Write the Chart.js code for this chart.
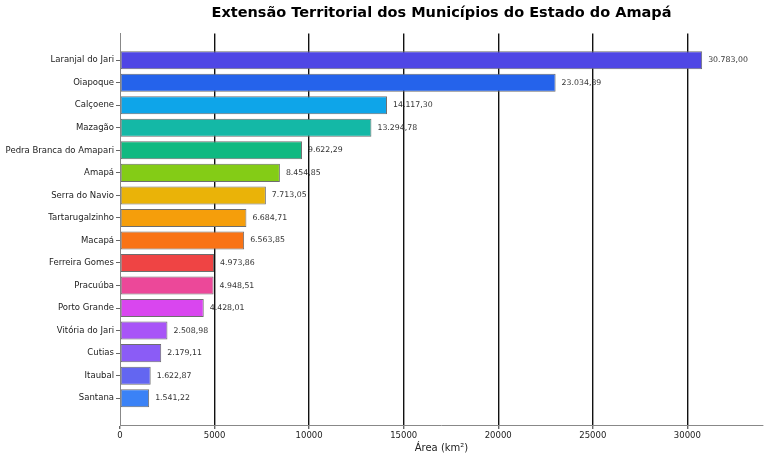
<!DOCTYPE html>
<html>
<head>
<meta charset="utf-8">
<script src="https://cdn.jsdelivr.net/npm/chart.js@4/dist/chart.umd.min.js"></script>
<style>
  html, body { margin: 0; padding: 0; background: #fff; }
  #wrap { width: 768px; height: 457px; }
</style>
</head>
<body>
<div id="wrap"><canvas id="chart"></canvas></div>
<script>
(function() {
    // municipios do Amapa, area em km2
    var municipios = ["Laranjal do Jari", "Oiapoque", "Calçoene", "Mazagão",
        "Pedra Branca do Amapari", "Amapá", "Serra do Navio", "Tartarugalzinho",
        "Macapá", "Ferreira Gomes", "Pracuúba", "Porto Grande",
        "Vitória do Jari", "Cutias", "Itaubal", "Santana"];
    var areas = [30783.00, 23034.39, 14117.30, 13294.78, 9622.29, 8454.85, 7713.05, 6684.71,
        6563.85, 4973.86, 4948.51, 4428.01, 2508.98, 2179.11, 1622.87, 1541.22];
    var cores = ["#4f46e5", "#2563eb", "#0ea5e9", "#14b8a6", "#10b981", "#84cc16", "#eab308", "#f59e0b",
        "#f97316", "#ef4444", "#ec4899", "#d946ef", "#a855f7", "#8b5cf6", "#6366f1", "#3b82f6"];
    var xTicks = [0, 5000, 10000, 15000, 20000, 25000, 30000];

    var fonte = "'DejaVu Sans', sans-serif";

    function formatBR(v) {
        var parts = v.toFixed(2).split(".");
        var inteiro = parts[0].replace(/\B(?=(\d{3})+(?!\d))/g, ".");
        return inteiro + "," + parts[1];
    }

    var valueLabels = {
        id: 'valueLabels',
        afterDatasetsDraw: function(chart) {
            var ctx = chart.ctx;
            var xs = chart.scales.x, ys = chart.scales.y;
            ctx.save();
            ctx.font = "7.8px " + fonte;
            ctx.fillStyle = "#333";
            ctx.textBaseline = "middle";
            ctx.textAlign = "left";
            areas.forEach(function(v, i) {
                ctx.fillText(formatBR(v), xs.getPixelForValue(v) + 6, ys.getPixelForValue(i));
            });
            ctx.restore();
        }
    };

    new Chart(document.getElementById('chart'), {
        type: 'bar',
        data: {
            datasets: [{
                data: areas.map(function(v, i) { return { x: v, y: i }; }),
                backgroundColor: cores,
                borderColor: "#6e6e6e",
                borderWidth: 1,
                borderSkipped: false,
                barPercentage: 0.8,
                categoryPercentage: 1.0
            }]
        },
        options: {
            indexAxis: 'y',
            responsive: true,
            maintainAspectRatio: false,
            animation: false,
            devicePixelRatio: 1,
            layout: { padding: { left: 0, right: 5, top: 0, bottom: 0 } },
            plugins: {
                legend: { display: false },
                tooltip: { enabled: false },
                title: {
                    display: true,
                    fullSize: false,
                    text: "Extensão Territorial dos Municípios do Estado do Amapá",
                    color: "#000",
                    font: { family: fonte, size: 14.5, weight: 'bold' },
                    padding: { top: 5, bottom: 11 }
                }
            },
            scales: {
                x: {
                    type: 'linear',
                    min: 0,
                    max: 34000,
                    afterBuildTicks: function(scale) {
                        scale.ticks = xTicks.map(function(v) { return { value: v }; });
                    },
                    afterFit: function(scale) { scale.height = 32; },
                    ticks: {
                        color: "#222",
                        font: { family: fonte, size: 8.5 },
                        padding: 2,
                        maxRotation: 0,
                        callback: function(v) { return String(v); }
                    },
                    grid: {
                        color: function(c) { return c.tick && c.tick.value === 0 ? 'rgba(0,0,0,0)' : '#111'; },
                        lineWidth: 1.4,
                        borderDash: [3, 1.5],
                        tickColor: "#666",
                        tickLength: 4,
                        tickBorderDash: []
                    },
                    border: { display: true, color: "#888", width: 1 },
                    title: {
                        display: true,
                        text: "Área (km²)",
                        color: "#222",
                        font: { family: fonte, size: 10 },
                        padding: { top: 0, bottom: 3 }
                    }
                },
                y: {
                    type: 'linear',
                    reverse: true,
                    offset: false,
                    min: -1.19,
                    max: 16.19,
                    afterBuildTicks: function(scale) {
                        scale.ticks = municipios.map(function(n, i) { return { value: i }; });
                    },
                    afterFit: function(scale) { scale.width = 120; },
                    ticks: {
                        color: "#222",
                        font: { family: fonte, size: 8.5 },
                        padding: 2,
                        callback: function(v) { return municipios[v]; }
                    },
                    grid: {
                        offset: false,
                        drawOnChartArea: false,
                        tickColor: "#666",
                        tickLength: 4
                    },
                    border: { display: true, color: "#888", width: 1 }
                }
            }
        },
        plugins: [valueLabels]
    });
})();
</script>
</body>
</html>
